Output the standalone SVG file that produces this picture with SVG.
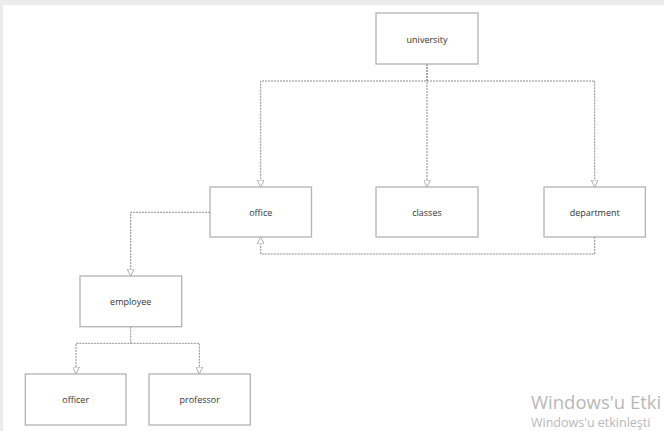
<svg xmlns="http://www.w3.org/2000/svg" width="664" height="431" viewBox="0 0 664 431">
<defs>
<style>
.box{fill:#fff;stroke:#b3b3b3;stroke-width:1.3}
.lbl{font-family:"Open Sans","Noto Sans",sans-serif;font-size:9px;fill:#333;text-anchor:middle}
.con{fill:none;stroke:#8a8a8a;stroke-width:1;stroke-dasharray:2,1}
.wm{font-family:"Open Sans","Noto Sans",sans-serif;fill:#b8b8b8}
</style>
<marker id="tri" viewBox="0 0 10 10" refX="10" refY="5" markerWidth="7" markerHeight="7" markerUnits="userSpaceOnUse" orient="auto">
<path d="M0,0 L10,5 L0,10 Z" fill="#fff" stroke="#a0a0a0" stroke-width="1.2"/>
</marker>
</defs>
<rect x="0" y="0" width="664" height="431" fill="#fff"/>
<rect x="0" y="0" width="664" height="5" fill="#ececec"/>
<rect x="0" y="0" width="3" height="431" fill="#ececec"/>
<g id="connectors">
<path class="con" d="M427,64 V81 H260.7 V187" marker-end="url(#tri)"/>
<path class="con" d="M427,64 V187" marker-end="url(#tri)"/>
<path class="con" d="M427,81 H594.7 V187" marker-end="url(#tri)"/>
<path class="con" d="M594.7,237 V254 H260.7 V237" marker-end="url(#tri)"/>
<path class="con" d="M210,212.3 H130.7 V276" marker-end="url(#tri)"/>
<path class="con" d="M130.7,326.7 V343.3 H76 V374" marker-end="url(#tri)"/>
<path class="con" d="M130.7,343.3 H199.3 V374" marker-end="url(#tri)"/>
</g>
<g id="university"><rect class="box" x="376" y="13" width="102" height="51"/><text class="lbl" x="427" y="43">university</text></g>
<g id="office"><rect class="box" x="210" y="187" width="101.5" height="50"/><text class="lbl" x="260.7" y="215.5">office</text></g>
<g id="classes"><rect class="box" x="376" y="187" width="102" height="50"/><text class="lbl" x="427" y="215.5">classes</text></g>
<g id="department"><rect class="box" x="544" y="187" width="101.3" height="50"/><text class="lbl" x="594.7" y="215.5">department</text></g>
<g id="employee"><rect class="box" x="80" y="276" width="101.7" height="50.7"/><text class="lbl" x="130.7" y="304.5">employee</text></g>
<g id="officer"><rect class="box" x="25.3" y="374" width="100.7" height="51"/><text class="lbl" x="75.7" y="402.5">officer</text></g>
<g id="professor"><rect class="box" x="149" y="374" width="101.3" height="51"/><text class="lbl" x="199.7" y="402.5">professor</text></g>
<text class="wm" x="531" y="409" font-size="18.5">Windows'u Etki</text>
<text class="wm" x="531" y="427" font-size="12.5">Windows'u etkinleşti</text>
</svg>
